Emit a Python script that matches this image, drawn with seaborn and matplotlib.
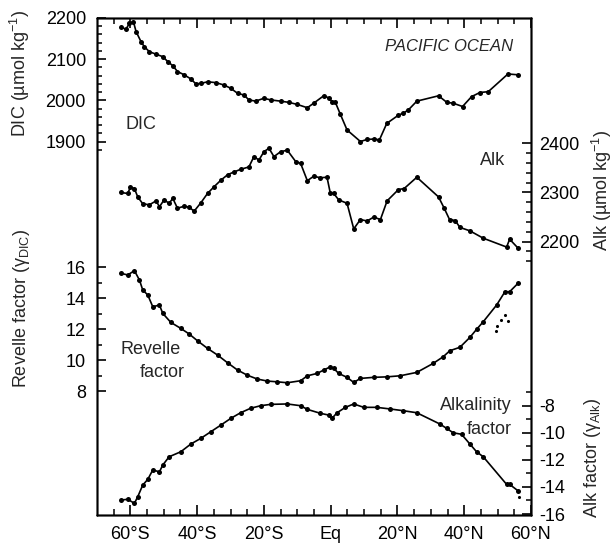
import matplotlib
matplotlib.use("Agg")
import matplotlib.pyplot as plt
import seaborn as sns

sns.set_style("ticks")
plt.rcParams['font.family'] = ['Liberation Sans', 'DejaVu Sans']
plt.rcParams['mathtext.fontset'] = 'custom'
plt.rcParams['mathtext.rm'] = 'Liberation Sans'
plt.rcParams['mathtext.it'] = 'Liberation Sans:italic'
plt.rcParams['axes.unicode_minus'] = False
plt.rcParams['axes.edgecolor'] = 'black'
plt.rcParams['axes.linewidth'] = 1.0
plt.rcParams['xtick.color'] = 'black'
plt.rcParams['ytick.color'] = 'black'
plt.rcParams['xtick.direction'] = 'in'
plt.rcParams['ytick.direction'] = 'in'
plt.rcParams['xtick.top'] = True
plt.rcParams['xtick.major.size'] = 7
plt.rcParams['xtick.minor.size'] = 4
plt.rcParams['ytick.major.size'] = 6.5
plt.rcParams['ytick.minor.size'] = 3.5
plt.rcParams['xtick.major.width'] = 1.2
plt.rcParams['ytick.major.width'] = 1.2
plt.rcParams['xtick.minor.width'] = 1.1
plt.rcParams['ytick.minor.width'] = 1.1

# latitude ticks
lat_ticks = [-60, -40, -20, 0, 20, 40, 60]
lat_labels = ['60°S', '40°S', '20°S', 'Eq', '20°N', '40°N', '60°N']

# DIC (umol/kg)
dic_lat = [-62.8, -61.3, -60.3, -59.1, -58.3, -56.8, -55.8, -54.3, -52.3, -50.3, -48.8, -47.3,
           -45.9, -43.9, -41.9, -40.4, -38.9, -36.9, -34.4, -31.9, -29.9, -27.9, -26.0, -24.5,
           -22.5, -20.0, -18.0, -15.0, -12.5, -10.0, -7.0, -5.1, -2.1, -0.6, 0.4, 1.4, 2.9, 4.9,
           8.9, 10.9, 12.9, 14.6, 16.8, 20.3, 21.8, 23.3, 25.8, 32.3, 34.8, 36.7, 39.5, 42.2,
           44.7, 47.2, 53.1, 56.1]
dic_val = [2177, 2173, 2187, 2191, 2167, 2142, 2130, 2118, 2112, 2106, 2094, 2084,
           2070, 2062, 2052, 2040, 2041, 2045, 2043, 2037, 2029, 2017, 2013, 2001,
           1998, 2005, 2001, 1998, 1995, 1990, 1982, 1993, 2011, 2006, 1997, 1995, 1966, 1928,
           1900, 1905, 1906, 1904, 1944, 1964, 1969, 1977, 1998, 2011, 1995, 1993, 1985, 2009,
           2019, 2021, 2064, 2062]

# Alkalinity (umol/kg)
alk_lat = [-62.8, -60.8, -60.0, -58.8, -57.8, -56.3, -54.3, -52.3, -51.3, -49.9, -48.4, -47.3,
           -45.9, -43.9, -42.4, -40.9, -38.9, -36.9, -34.9, -32.9, -30.9, -28.9, -27.0, -24.5,
           -23.0, -21.5, -20.0, -18.5, -17.0, -15.0, -13.0, -10.5, -9.0, -7.0, -5.1, -3.1, -1.1,
           -0.1, 0.9, 2.4, 4.9, 6.9, 8.9, 10.9, 12.9, 14.9, 16.9, 20.3, 22.0, 25.8, 32.3, 34.0,
           35.6, 37.3, 38.7, 41.7, 45.7, 52.7, 53.6, 56.1]
alk_val = [2300, 2298, 2311, 2308, 2291, 2277, 2275, 2283, 2271, 2285, 2278, 2288,
           2268, 2272, 2270, 2262, 2279, 2298, 2312, 2325, 2336, 2342, 2347, 2352,
           2373, 2366, 2383, 2390, 2373, 2383, 2386, 2363, 2359, 2324, 2333, 2330, 2331,
           2298, 2298, 2285, 2278, 2226, 2245, 2242, 2250, 2245, 2283, 2306, 2308, 2331, 2291, 2268,
           2245, 2243, 2229, 2222, 2207, 2189, 2205, 2187]

# Revelle factor
rev_lat = [-62.8, -60.8, -58.8, -57.3, -56.3, -54.8, -53.3, -51.3, -50.3, -47.9, -44.9, -42.4,
           -39.9, -36.9, -33.9, -30.9, -27.9, -25.0, -22.0, -19.0, -16.0, -13.0, -9.0, -7.0,
           -4.1, -2.1, -0.1, 0.9, 2.4, 4.9, 6.9, 8.9, 12.9, 16.8, 20.8, 25.8, 30.7, 33.7, 35.7,
           38.7, 41.7, 43.7, 45.7, 49.7, 52.2, 53.6, 56.1]
rev_val = [15.61, 15.5, 15.78, 15.18, 14.53, 14.21, 13.45, 13.56, 13.02, 12.44, 12.05, 11.69,
           11.25, 10.76, 10.33, 9.83, 9.36, 9.03, 8.78, 8.65, 8.60, 8.54, 8.67, 8.99,
           9.14, 9.36, 9.57, 9.47, 9.14, 8.89, 8.56, 8.82, 8.89, 8.92, 8.99, 9.21, 9.79, 10.22, 10.61,
           10.83, 11.47, 11.99, 12.48, 13.56, 14.42, 14.42, 14.96]
rev_stray_lat = [49.5, 49.7, 51.0, 52.2, 53.0]
rev_stray_val = [11.9, 12.2, 12.6, 12.9, 12.5]

# Alkalinity factor
af_lat = [-62.8, -60.8, -58.8, -57.8, -56.3, -54.8, -53.3, -51.3, -50.3, -48.4, -44.9, -41.9,
          -38.9, -35.9, -32.9, -29.9, -27.0, -24.0, -21.0, -18.0, -13.0, -9.0, -7.0, -3.1,
          -0.6, 0.4, 1.9, 4.4, 6.9, 9.9, 13.8, 17.8, 21.8, 25.8, 32.7, 34.7, 36.7, 39.2,
          41.7, 43.7, 45.7, 52.7, 53.6, 56.1]
af_val = [-14.97, -14.91, -15.21, -14.72, -13.86, -13.44, -12.75, -12.88, -12.38, -11.77, -11.40, -10.83,
          -10.41, -9.92, -9.43, -8.93, -8.52, -8.19, -8.00, -7.90, -7.87, -8.00, -8.27, -8.56,
          -8.69, -8.93, -8.52, -8.12, -7.87, -8.12, -8.12, -8.24, -8.37, -8.52, -9.35, -9.67, -10.00, -10.11,
          -10.83, -11.40, -11.77, -13.81, -13.81, -14.28]
af_stray_lat = [56.4]
af_stray_val = [-14.77]

line_kw = dict(color='black', marker='o', markersize=3.6, linewidth=1.2, markeredgewidth=0,
               estimator=None, sort=False, legend=False)

fig = plt.figure(figsize=(6.16, 5.43), dpi=100)
ax = fig.add_axes([0.1575, 0.0516, 0.7045, 0.9153])
ax_alk = ax.twinx()
ax_rev = ax.twinx()
ax_af = ax.twinx()
ax_rev.yaxis.tick_left()
ax_rev.yaxis.set_label_position('left')

sns.lineplot(x=dic_lat, y=dic_val, ax=ax, **line_kw)
sns.lineplot(x=alk_lat, y=alk_val, ax=ax_alk, **line_kw)
sns.lineplot(x=rev_lat, y=rev_val, ax=ax_rev, **line_kw)
sns.lineplot(x=af_lat, y=af_val, ax=ax_af, **line_kw)
ax_rev.scatter(rev_stray_lat, rev_stray_val, s=5, color='black', linewidths=0)
ax_af.scatter(af_stray_lat, af_stray_val, s=5, color='black', linewidths=0)

ax.set_xlim(-70, 60)
ax.set_xticks(lat_ticks)
ax.set_xticklabels(lat_labels)
ax.set_xticks(list(range(-65, 60, 5)), minor=True)
ax.tick_params(axis='x', which='both', top=True, bottom=True, direction='in')
ax.tick_params(axis='x', which='major', labelsize=13, pad=8)

ax.set_ylim(993, 2200)
ax.set_yticks([1900, 2000, 2100, 2200])
ax.set_yticks([v for v in range(1880, 2200, 20) if v % 100], minor=True)

ax_alk.set_ylim(1644, 2655)
ax_alk.set_yticks([2200, 2300, 2400])
ax_alk.set_yticks([v for v in range(2160, 2400, 20) if v % 100], minor=True)

ax_rev.set_ylim(0, 32.1)
ax_rev.set_yticks([8, 10, 12, 14, 16])
ax_rev.set_yticks([9, 11, 13, 15], minor=True)

ax_af.set_ylim(-16.07, 20.64)
ax_af.set_yticks([-16, -14, -12, -10, -8])
ax_af.set_yticks([-15, -13, -11, -9, -7], minor=True)

for a, p in [(ax, 8), (ax_rev, 8), (ax_alk, 6), (ax_af, 6)]:
    a.tick_params(axis='y', which='both', direction='in')
    a.tick_params(axis='y', which='major', labelsize=13, pad=p)
    a.set_xlabel('')

ax.set_ylabel('DIC (µmol kg$^{-1}$)', fontsize=13)
ax.yaxis.set_label_coords(-0.15, 0.889)
ax_rev.set_ylabel('Revelle factor (γ$_{\\mathrm{DIC}}$)', fontsize=13)
ax_rev.yaxis.set_label_coords(-0.15, 0.4165)
ax_alk.set_ylabel('Alk (µmol kg$^{-1}$)', fontsize=13)
ax_alk.yaxis.set_label_coords(1.135, 0.654)
ax_af.set_ylabel('Alk factor (γ$_{\\mathrm{Alk}}$)', fontsize=13)
ax_af.yaxis.set_label_coords(1.118, 0.115)

ax.text(0.958, 0.942, 'PACIFIC OCEAN', transform=ax.transAxes, ha='right', va='center',
        fontsize=12, style='italic')
ax.text(0.0645, 0.785, 'DIC', transform=ax.transAxes, ha='left', va='center', fontsize=13)
ax.text(0.882, 0.714, 'Alk', transform=ax.transAxes, ha='left', va='center', fontsize=13)
ax.text(0.053, 0.332, 'Revelle', transform=ax.transAxes, ha='left', va='center', fontsize=13)
ax.text(0.098, 0.286, 'factor', transform=ax.transAxes, ha='left', va='center', fontsize=13)
ax.text(0.956, 0.221, 'Alkalinity', transform=ax.transAxes, ha='right', va='center', fontsize=13)
ax.text(0.956, 0.171, 'factor', transform=ax.transAxes, ha='right', va='center', fontsize=13)

fig.savefig('out.png', dpi=100)
